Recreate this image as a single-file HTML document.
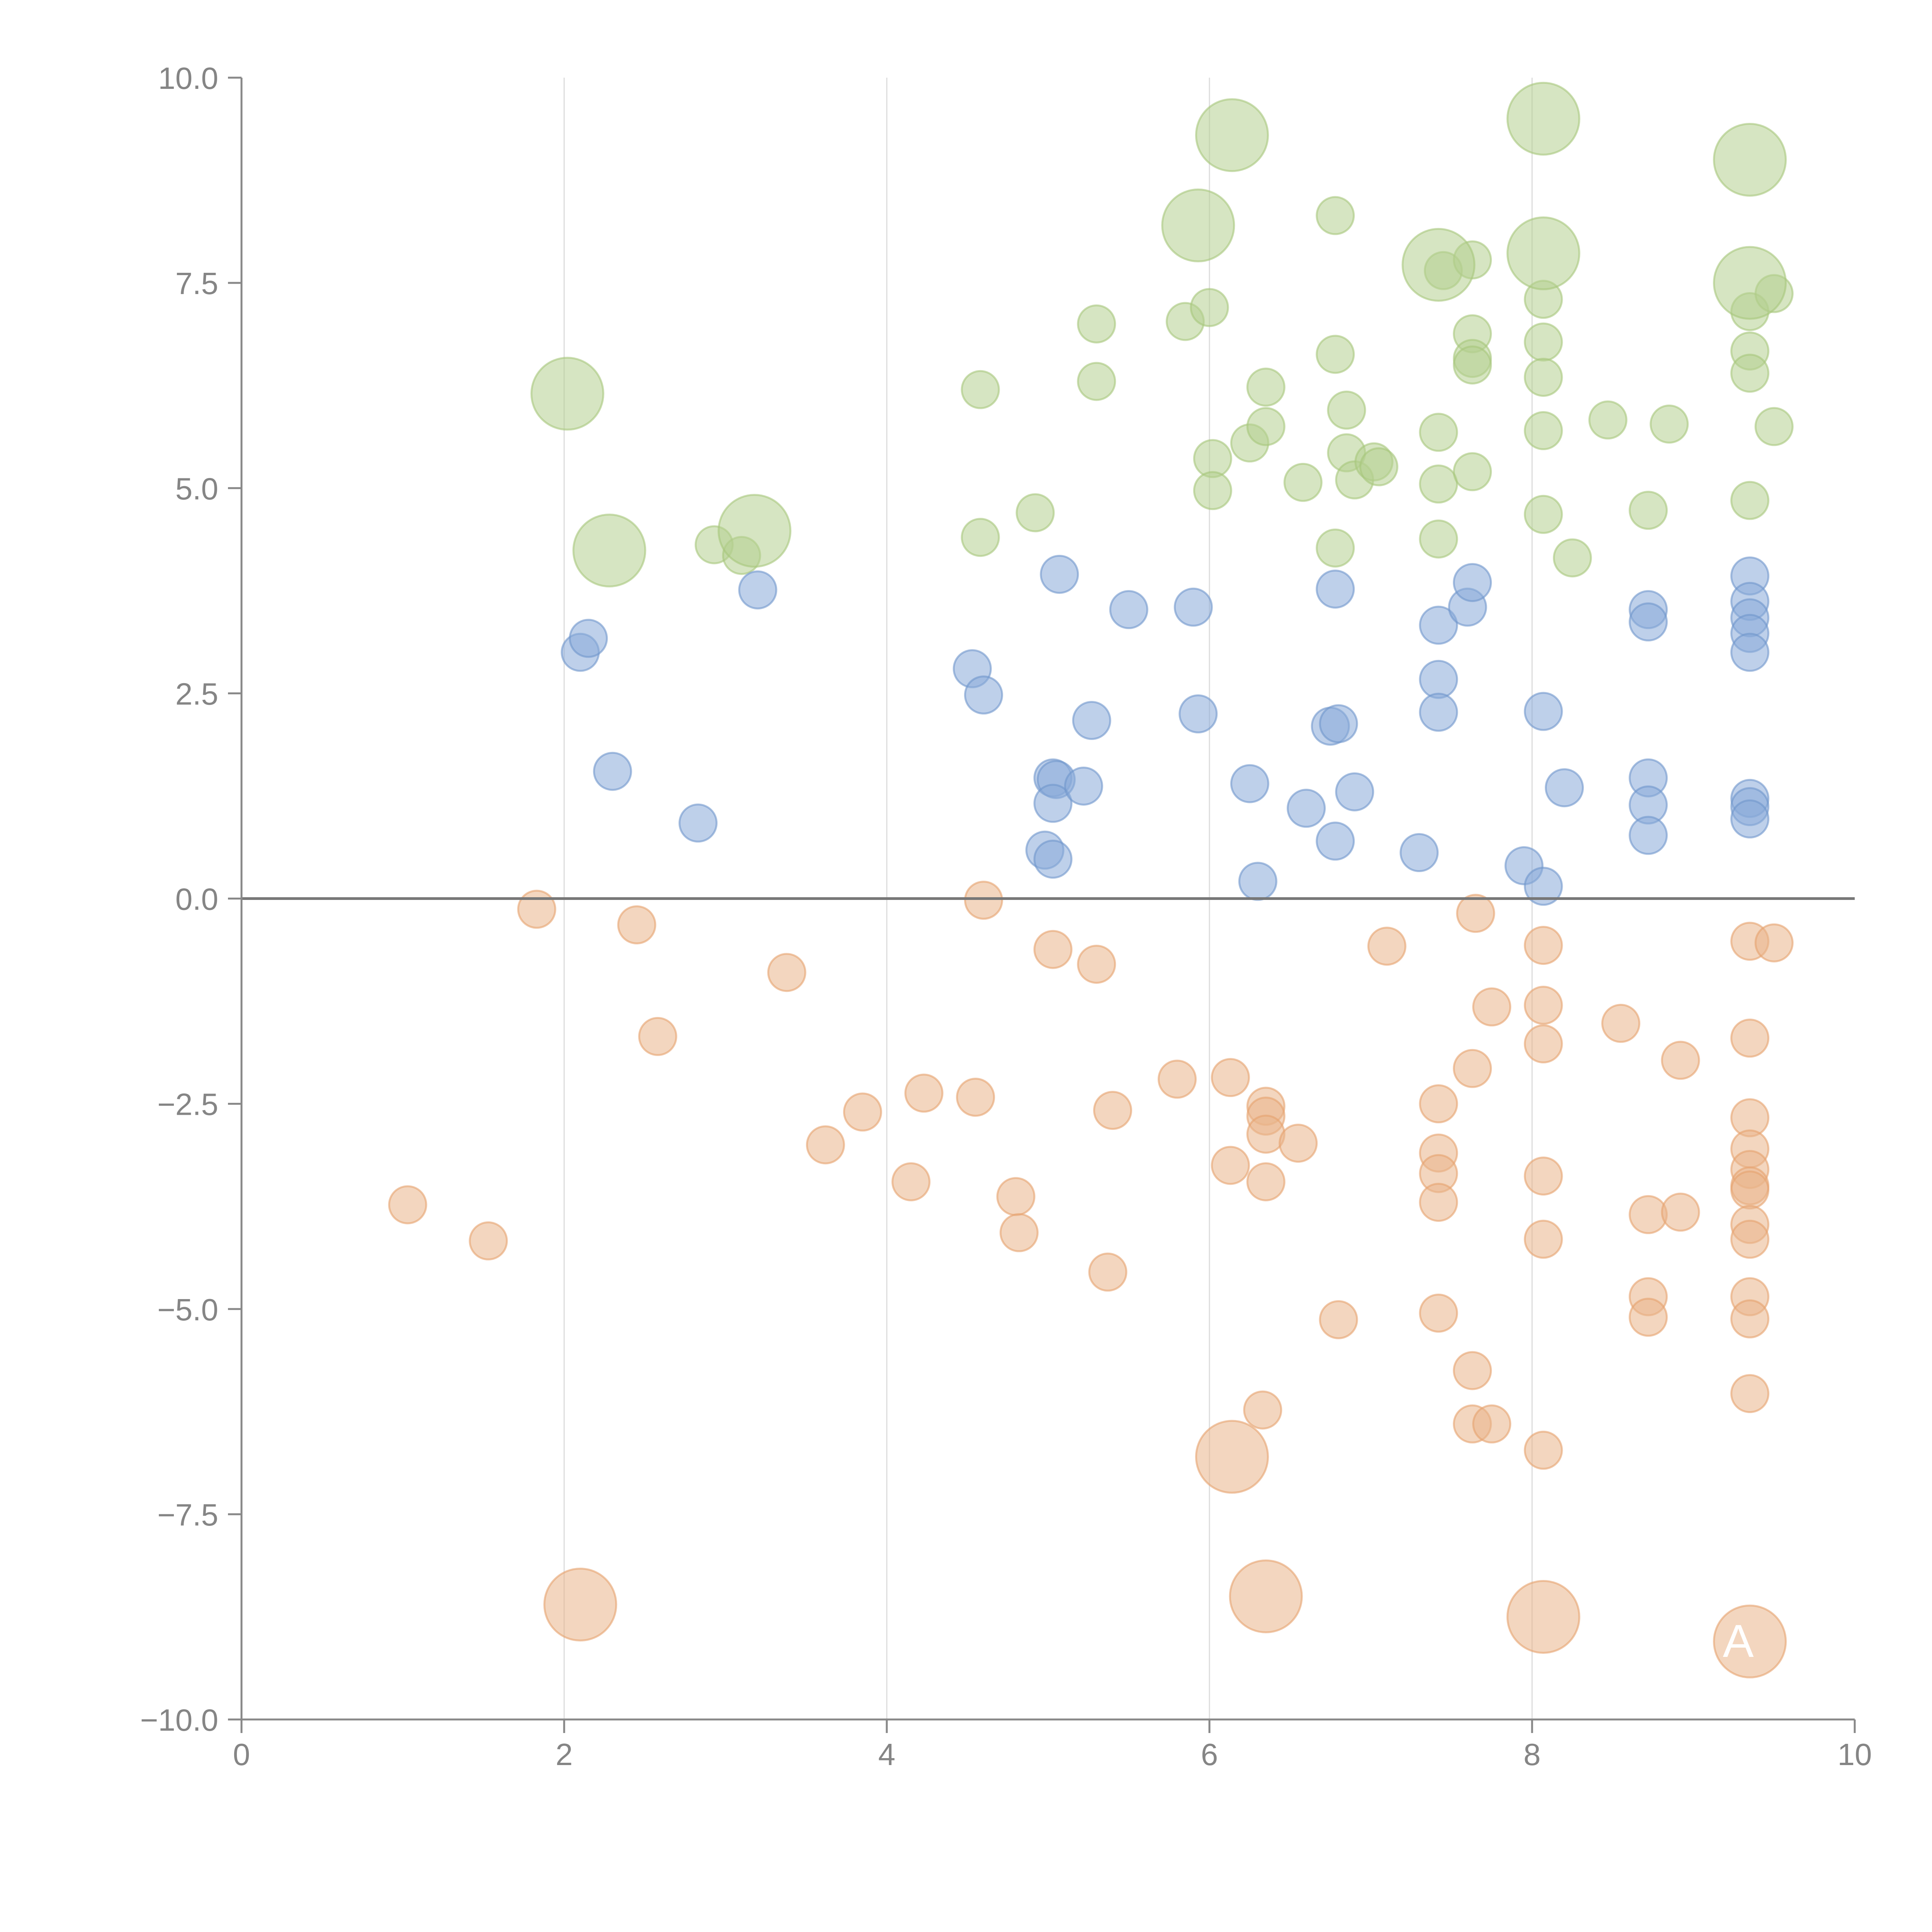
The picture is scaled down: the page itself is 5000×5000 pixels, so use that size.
<!DOCTYPE html>
<html><head><meta charset="utf-8">
<style>html,body{margin:0;padding:0;background:#fff}svg{display:block}</style>
</head><body>
<svg id="chart" width="5000" height="5000" viewBox="0 0 5000 5000" xmlns="http://www.w3.org/2000/svg" font-family="Liberation Sans, sans-serif">
<g id="grid"></g>
<g id="marks"></g>
<g id="axes"></g>
</svg>
<script>
const xTicks = [0, 2, 4, 6, 8, 10];
const yTicks = [-10, -7.5, -5, -2.5, 0, 2.5, 5, 7.5, 10];
const yTickLabels = ["\u221210.0","\u22127.5","\u22125.0","\u22122.5","0.0","2.5","5.0","7.5","10.0"];
const greenX = [2.93,3.1,4.58,4.58,4.92,5.3,5.3,5.85,6.0,6.02,6.02,6.25,6.35,6.35,6.58,6.78,6.78,6.78,6.85,6.85,6.9,7.02,7.05,7.42,7.42,7.42,7.45,7.63,7.63,7.63,7.63,7.63,8.07,8.07,8.07,8.07,8.07,8.25,8.47,8.85,8.72,9.35,9.35,9.35,9.35,9.5,9.5];
const greenY = [4.31,4.18,6.2,4.4,4.7,7.0,6.3,7.03,7.2,5.36,4.97,5.55,6.23,5.75,5.07,8.32,6.63,4.27,5.95,5.43,5.1,5.32,5.26,5.68,5.05,4.38,7.65,7.78,6.88,6.58,6.5,5.2,7.3,6.78,6.35,5.7,4.68,4.15,5.83,5.78,4.73,7.15,6.67,6.4,4.85,7.37,5.75];
const greenBigX = [2.02,2.28,3.18,5.93,6.14,7.42,8.07,8.07,9.35,9.35];
const greenBigY = [6.15,4.24,4.48,8.2,9.3,7.72,9.5,7.86,9.0,7.5];
const blueX = [2.1,2.15,2.3,2.83,3.2,4.53,4.6,4.98,5.03,5.03,5.05,5.03,5.07,5.22,5.27,5.5,5.9,5.93,6.25,6.3,6.6,6.75,6.8,6.78,6.78,6.9,7.3,7.42,7.42,7.42,7.6,7.63,7.95,8.07,8.07,8.2,8.72,8.72,8.72,8.72,8.72,9.35,9.35,9.35,9.35,9.35,9.35,9.35,9.35];
const blueY = [3.0,3.17,1.55,0.92,3.76,2.8,2.48,0.59,0.48,1.47,1.45,1.16,3.95,1.37,2.17,3.52,3.55,2.25,1.4,0.21,1.1,2.1,2.13,3.77,0.7,1.3,0.56,3.33,2.67,2.27,3.55,3.85,0.4,0.15,2.28,1.35,3.52,3.37,1.47,1.14,0.77,3.93,3.62,3.42,3.23,3.0,1.22,1.12,0.97];
const orangeX = [1.03,1.53,1.83,2.45,2.58,3.38,3.62,3.85,4.15,4.23,4.55,4.6,4.8,4.82,5.03,5.3,5.37,5.4,5.8,6.13,6.13,6.35,6.35,6.35,6.35,6.33,6.55,6.8,7.1,7.42,7.42,7.42,7.42,7.42,7.65,7.63,7.63,7.63,7.75,7.75,8.07,8.07,8.07,8.07,8.07,8.07,8.55,8.92,8.72,8.92,8.72,8.72,9.35,9.5,9.35,9.35,9.35,9.35,9.35,9.35,9.35,9.35,9.35,9.35,9.35];
const orangeY = [-3.73,-4.17,-0.13,-0.32,-1.68,-0.9,-3.0,-2.6,-3.45,-2.37,-2.42,-0.02,-3.63,-4.07,-0.62,-0.8,-4.55,-2.58,-2.2,-2.18,-3.25,-2.53,-2.65,-2.87,-3.45,-6.23,-2.98,-5.13,-0.58,-2.5,-3.1,-3.35,-3.7,-5.05,-0.18,-2.07,-5.75,-6.4,-1.32,-6.4,-0.57,-1.3,-1.77,-3.38,-4.15,-6.72,-1.52,-1.97,-3.85,-3.82,-4.85,-5.1,-0.52,-0.54,-1.7,-2.67,-3.05,-3.3,-3.5,-3.55,-3.97,-4.15,-4.85,-5.12,-6.03];
const orangeBigX = [2.1,6.14,6.35,8.07,9.35];
const orangeBigY = [-8.6,-6.8,-8.5,-8.75,-9.05];
const orangeBigLabels = ["","","","","A"];

const X0=625, X1=4800, Y0=4450, Y1=201;
const xs = v => X0 + (v-0)/(10-0)*(X1-X0);
const ys = v => Y0 - (v+10)/20*(Y0-Y1);
const NS="http://www.w3.org/2000/svg";
function mk(tag, attrs, parent){const e=document.createElementNS(NS,tag);for(const k in attrs)e.setAttribute(k,attrs[k]);parent.appendChild(e);return e;}
const grid=document.getElementById('grid'), marks=document.getElementById('marks'), axes=document.getElementById('axes');

[2,4,6,8].forEach(t=>{
  const l=mk('line',{x1:xs(t),x2:xs(t),y1:ys(10),y2:ys(-10),stroke:'#dcdcdc','stroke-width':3},grid);
  
  
});

function drawSeries(X,Y,r,fill,stroke,name,labels){
  X.forEach((xv,i)=>{
    const c=mk('circle',{cx:xs(xv),cy:ys(Y[i]),r:r,fill:fill,'fill-opacity':0.55,stroke:stroke,'stroke-opacity':0.6,'stroke-width':5},marks);
    
    
    if(labels && labels[i]){
      const t=mk('text',{x:xs(xv)-30,y:ys(Y[i])+40,fill:'#fff','font-size':120,'text-anchor':'middle'},marks);
      t.textContent=labels[i];
      
      
    }
  });
}
drawSeries(greenX,greenY,48,'#b5d08f','#a6c77c','green-bubble');
drawSeries(greenBigX,greenBigY,93,'#b5d08f','#a6c77c','green-large-bubble');
drawSeries(blueX,blueY,48,'#89a9d8','#7096cc','blue-bubble');
drawSeries(orangeX,orangeY,48,'#eab48a','#e6a26e','orange-bubble');
drawSeries(orangeBigX,orangeBigY,93,'#eab48a','#e6a26e','orange-large-bubble',orangeBigLabels);

const z=mk('line',{x1:xs(0),x2:xs(10),y1:ys(0),y2:ys(0),stroke:'#777','stroke-width':7},axes);


const ya=mk('line',{x1:xs(0),x2:xs(0),y1:ys(10),y2:ys(-10),stroke:'#888','stroke-width':5},axes);


const xa=mk('line',{x1:xs(0),x2:xs(10),y1:ys(-10),y2:ys(-10),stroke:'#888','stroke-width':5},axes);


xTicks.forEach(t=>{
  const l=mk('line',{x1:xs(t),x2:xs(t),y1:ys(-10),y2:ys(-10)+35,stroke:'#888','stroke-width':5},axes);
  
  
  const tx=mk('text',{x:xs(t),y:ys(-10)+118,fill:'#858585','font-size':80,'text-anchor':'middle'},axes);
  tx.textContent=String(t);
  
  
});
yTicks.forEach((t,i)=>{
  const l=mk('line',{x1:xs(0)-35,x2:xs(0),y1:ys(t),y2:ys(t),stroke:'#888','stroke-width':5},axes);
  
  
  const tx=mk('text',{x:xs(0)-60,y:ys(t)+29,fill:'#858585','font-size':80,'text-anchor':'end'},axes);
  tx.textContent=yTickLabels[i];
  
  
});
</script>
</body></html>
